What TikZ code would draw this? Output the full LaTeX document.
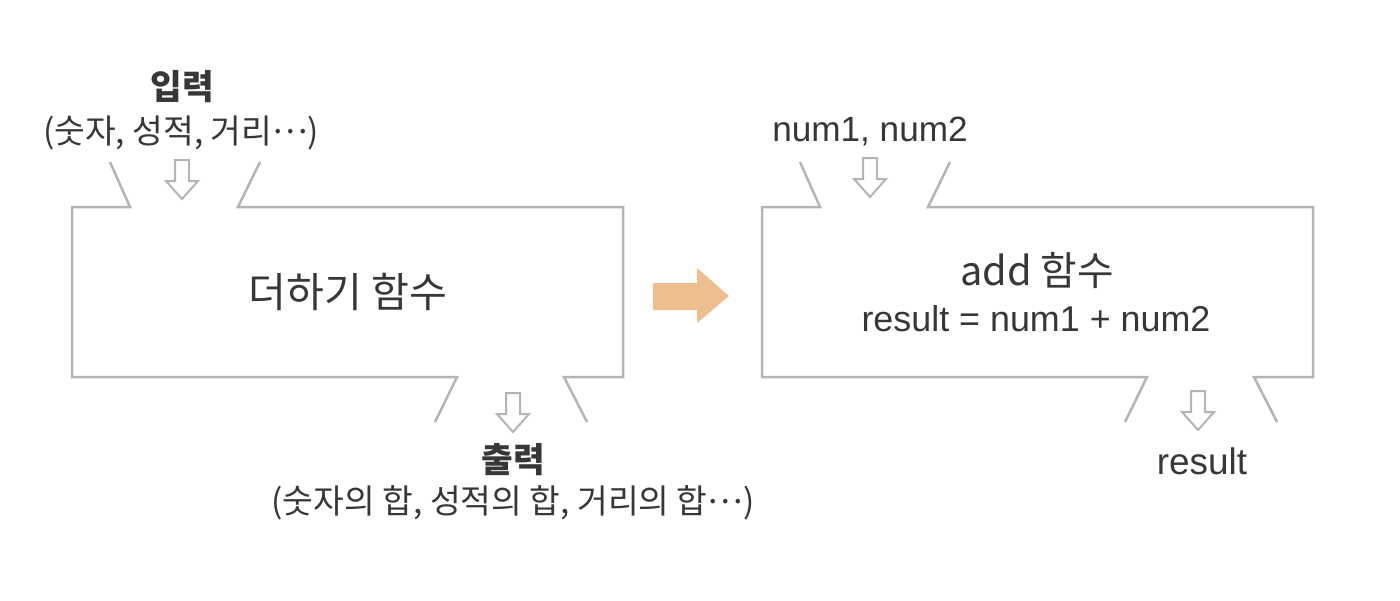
\documentclass[tikz,border=0pt]{standalone}
\usepackage{fontspec}
\setmainfont{Liberation Sans}
\newfontfamily\kr{Noto Sans CJK KR}
\definecolor{boxgray}{RGB}{180,180,180}
\definecolor{txtgray}{RGB}{55,55,55}
\definecolor{peach}{RGB}{238,190,142}
\newcommand{\middots}{\raisebox{0.3em}{…}}
\tikzset{
  outline/.style={draw=boxgray, line width=0.25mm},
  hollow/.style={draw=boxgray, fill=white, line width=0.2mm, line join=miter},
  label/.style={text=txtgray, inner sep=0pt}
}

\begin{document}
\begin{tikzpicture}[x=0.01cm, y=-0.01cm]
      \useasboundingbox (0,0) rectangle (1400,600);

      % two function boxes with mouths at top and bottom
      \foreach \dx in {0, 690} {
          \begin{scope}[xshift=\dx*0.01cm]
              \draw[outline] (110,162) -- (130,207) -- (72,207) -- (72,377) -- (457,377) -- (435,422);
              \draw[outline] (260,162) -- (238,207) -- (623,207) -- (623,377) -- (564,377) -- (587,422);
          \end{scope}
      }

      % hollow down arrows (centre x, top y)
      \foreach \cx/\ty in {182/160, 513/393, 870/158, 1198/391} {
          \draw[hollow] (\cx-7,\ty) -- (\cx+7,\ty) -- (\cx+7,\ty+21) -- (\cx+16,\ty+21)
              -- (\cx,\ty+39) -- (\cx-16,\ty+21) -- (\cx-7,\ty+21) -- cycle;
      }

      % big arrow between the boxes
      \fill[peach] (653,283) -- (697,283) -- (697,268) -- (729,296) -- (697,323) -- (697,310) -- (653,310) -- cycle;

      \node[label, font=\kr\bfseries\fontsize{9.8}{12}\selectfont] (inTitle) at (182,87) {입력};
      \node[label, font=\kr\fontsize{9.5}{12}\selectfont] (inList) at (181,133) {(숫자, 성적, 거리\middots)};
      \node[label, font=\kr\fontsize{11.7}{14}\selectfont] (plusFn) at (348,292) {더하기 함수};
      \node[label, font=\kr\bfseries\fontsize{9.8}{12}\selectfont] (outTitle) at (513,460) {출력};
      \node[label, font=\kr\fontsize{9.5}{12}\selectfont] (outList) at (513,503) {(숫자의 합, 성적의 합, 거리의 합\middots)};

      \node[label, font=\fontsize{10}{12}\selectfont] (args) at (870,131) {num1, num2};
      \node[label, font=\kr\fontsize{11.3}{13}\selectfont] (addFn) at (1037,270) {add 함수};
      \node[label, font=\fontsize{10.2}{12}\selectfont] (body) at (1036,319) {result = num1 + num2};
      \node[label, font=\fontsize{10.5}{12}\selectfont] (ret) at (1202,461) {result};
\end{tikzpicture}
\end{document}
